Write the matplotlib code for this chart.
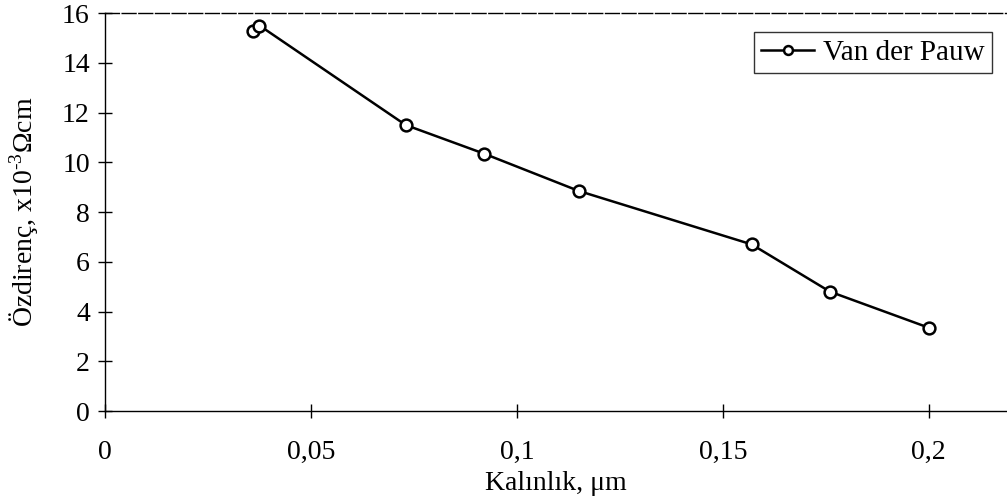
import matplotlib
matplotlib.use("Agg")
import matplotlib.pyplot as plt

thickness = [0.036, 0.0375, 0.073, 0.092, 0.115, 0.157, 0.176, 0.2]
resistivity = [15.3, 15.5, 11.5, 10.35, 8.85, 6.7, 4.8, 3.35]
xticks = [0, 0.05, 0.1, 0.15, 0.2]
xticklabels = ["0", "0,05", "0,1", "0,15", "0,2"]
yticks = [0, 2, 4, 6, 8, 10, 12, 14, 16]

plt.rcParams['font.family'] = ['Liberation Serif', 'DejaVu Serif']
plt.rcParams['mathtext.fontset'] = 'custom'
plt.rcParams['mathtext.rm'] = 'Liberation Serif'
plt.rcParams['mathtext.it'] = 'Liberation Serif:italic'
fig = plt.figure(figsize=(10.07, 5.04), dpi=100)
ax = fig.add_axes([0.1043, 0.1845, 0.8957, 0.7895])
ax.plot(thickness, resistivity, color='black', lw=1.8, marker='o', ms=8.5,
        mfc='white', mec='black', mew=1.8, label='Van der Pauw')
ax.set_xlim(0, 0.219)
ax.set_ylim(0, 16)
ax.set_xticks(xticks)
ax.set_xticklabels(xticklabels)
ax.set_yticks(yticks)
ax.tick_params(direction='inout', length=10, width=1, labelsize=20, pad=6)
ax.tick_params(axis='x', pad=16)
ax.spines['right'].set_visible(False)
ax.spines['top'].set_linestyle((0, (10, 2)))
ax.spines['top'].set_linewidth(1)
for s in ['left', 'bottom']:
    ax.spines[s].set_linewidth(1)
ax.set_xlabel('Kalınlık, μm', fontsize=20, labelpad=4)
ax.set_ylabel('Özdirenç, x10$^{\\text{-3}}$Ωcm', fontsize=20, labelpad=16)
leg = ax.legend(loc='upper right', bbox_to_anchor=(0.983, 0.952), fontsize=21,
                frameon=True, fancybox=False, edgecolor='black', handlelength=1.8,
                handletextpad=0.3, borderpad=0.25, borderaxespad=0, markerscale=0.75)
leg.get_frame().set_linewidth(1)
fig.savefig('out.png', dpi=100)
